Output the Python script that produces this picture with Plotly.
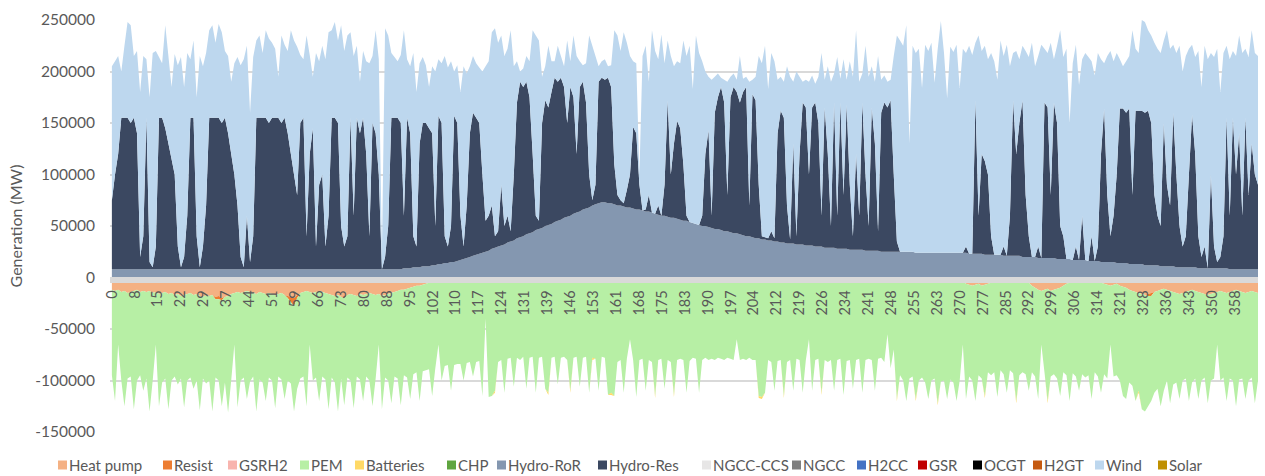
import plotly.graph_objects as go

# Hourly dispatch summarised per day (day 0 .. 365), values in MW
days = list(range(366))

hydro_ror = [
    8000, 8000, 8000, 8000, 8000, 8000, 8000, 8000, 8000, 8000,
    8000, 8000, 8000, 8000, 8000, 8000, 8000, 8000, 8000, 8000,
    8000, 8000, 8000, 8000, 8000, 8000, 8000, 8000, 8000, 8000,
    8000, 8000, 8000, 8000, 8000, 8000, 8000, 8000, 8000, 8000,
    8000, 8000, 8000, 8000, 8000, 8000, 8000, 8000, 8000, 8000,
    8000, 8000, 8000, 8000, 8000, 8000, 8000, 8000, 8000, 8000,
    8000, 8000, 8000, 8000, 8000, 8000, 8000, 8000, 8000, 8000,
    8000, 8000, 8000, 8000, 8000, 8000, 8000, 8000, 8000, 8000,
    8000, 8000, 8000, 8000, 8000, 8000, 8000, 8000, 8000, 8000,
    8000, 8000, 8000, 9000, 9000, 9000, 10000, 10000, 10000, 11000,
    11000, 11000, 12000, 12000, 13000, 13000, 14000, 14000, 15000, 15000,
    16000, 17000, 18000, 19000, 20000, 21000, 22000, 23000, 24000, 25000,
    26000, 28000, 29000, 30000, 31000, 32000, 34000, 35000, 36000, 38000,
    39000, 40000, 42000, 43000, 44000, 46000, 47000, 48000, 50000, 51000,
    52000, 54000, 55000, 56000, 58000, 59000, 60000, 62000, 63000, 64000,
    66000, 67000, 68000, 70000, 71000, 72000, 73000, 73000, 72000, 72000,
    71000, 70000, 70000, 69000, 68000, 68000, 67000, 66000, 66000, 65000,
    64000, 64000, 63000, 62000, 61000, 60000, 60000, 59000, 58000, 58000,
    57000, 56000, 55000, 55000, 54000, 53000, 52000, 51000, 50000, 50000,
    49000, 48000, 47000, 47000, 46000, 45000, 45000, 44000, 43000, 43000,
    42000, 41000, 40000, 40000, 39000, 38000, 38000, 37000, 37000, 36000,
    36000, 35000, 35000, 34000, 34000, 33000, 33000, 33000, 32000, 32000,
    32000, 31000, 31000, 31000, 30000, 30000, 30000, 29000, 29000, 29000,
    29000, 28000, 28000, 28000, 28000, 27000, 27000, 27000, 27000, 27000,
    26000, 26000, 26000, 26000, 26000, 25000, 25000, 25000, 25000, 25000,
    25000, 25000, 25000, 25000, 25000, 25000, 24000, 24000, 24000, 24000,
    24000, 24000, 24000, 24000, 24000, 24000, 24000, 24000, 24000, 24000,
    24000, 24000, 24000, 23000, 23000, 23000, 23000, 23000, 22000, 22000,
    22000, 22000, 22000, 22000, 21000, 21000, 21000, 21000, 21000, 21000,
    20000, 20000, 20000, 20000, 20000, 19000, 19000, 19000, 19000, 19000,
    19000, 18000, 18000, 18000, 18000, 18000, 17000, 17000, 17000, 17000,
    17000, 16000, 16000, 16000, 16000, 15000, 15000, 15000, 15000, 15000,
    14000, 14000, 14000, 14000, 13000, 13000, 13000, 13000, 13000, 12000,
    12000, 12000, 12000, 12000, 11000, 11000, 11000, 11000, 11000, 10000,
    10000, 10000, 10000, 10000, 10000, 10000, 9000, 9000, 9000, 9000,
    9000, 9000, 9000, 9000, 9000, 9000, 8000, 8000, 8000, 8000,
    8000, 8000, 8000, 8000, 8000, 8000,
]

hydro_res = [
    67000, 92000, 112000, 147000, 147000, 147000, 142000, 147000, 132000, 12000,
    32000, 147000, 7000, 2000, 22000, 147000, 147000, 137000, 122000, 107000,
    92000, 22000, 2000, 12000, 52000, 147000, 147000, 32000, 2000, 22000,
    62000, 147000, 147000, 147000, 147000, 142000, 147000, 132000, 112000, 92000,
    62000, 12000, 2000, 52000, 7000, 32000, 147000, 147000, 147000, 147000,
    142000, 147000, 147000, 147000, 142000, 147000, 132000, 112000, 92000, 72000,
    142000, 147000, 32000, 112000, 137000, 22000, 82000, 92000, 22000, 52000,
    147000, 147000, 142000, 42000, 22000, 32000, 147000, 52000, 147000, 132000,
    147000, 112000, 32000, 142000, 132000, 92000, 0, 12000, 42000, 147000,
    147000, 147000, 142000, 51000, 146000, 131000, 30000, 20000, 120000, 139000,
    139000, 134000, 128000, 38000, 144000, 137000, 26000, 16000, 35000, 142000,
    134000, 43000, 12000, 51000, 120000, 139000, 133000, 127000, 76000, 30000,
    34000, 42000, 11000, 15000, 59000, 18000, 26000, 10000, 64000, 132000,
    151000, 145000, 148000, 132000, 76000, 14000, 8000, 102000, 122000, 114000,
    128000, 140000, 135000, 138000, 127000, 91000, 125000, 113000, 57000, 121000,
    124000, 103000, 32000, 5000, 19000, 118000, 121000, 119000, 122000, 113000,
    39000, 10000, 5000, 3000, 17000, 32000, 79000, 74000, 24000, 0,
    2000, 16000, 0, 0, 9000, 0, 30000, 113000, 42000, 72000,
    95000, 89000, 55000, 5000, 0, 0, 0, 0, 10000, 70000,
    94000, 12000, 113000, 128000, 139000, 125000, 35000, 131000, 142000, 137000,
    128000, 139000, 145000, 30000, 139000, 134000, 52000, 3000, 2000, 2000,
    9000, 3000, 105000, 128000, 121000, 37000, 4000, 97000, 8000, 88000,
    138000, 134000, 69000, 134000, 140000, 120000, 30000, 136000, 91000, 21000,
    141000, 32000, 142000, 52000, 140000, 63000, 13000, 93000, 33000, 143000,
    74000, 24000, 139000, 104000, 19000, 135000, 145000, 140000, 147000, 75000,
    10000, 0, 0, 0, 0, 0, 0, 0, 0, 0,
    0, 0, 0, 0, 0, 0, 0, 0, 0, 0,
    0, 0, 6000, 0, 0, 149000, 37000, 97000, 91000, 78000,
    18000, 0, 0, 0, 9000, 0, 39000, 151000, 99000, 129000,
    152000, 60000, 20000, 0, 0, 11000, 0, 151000, 146000, 61000,
    151000, 132000, 32000, 22000, 0, 0, 0, 13000, 0, 43000,
    0, 0, 24000, 0, 14000, 105000, 149000, 65000, 25000, 45000,
    86000, 150000, 150000, 146000, 151000, 67000, 149000, 149000, 149000, 148000,
    150000, 138000, 68000, 48000, 39000, 139000, 79000, 59000, 149000, 90000,
    40000, 20000, 30000, 90000, 148000, 110000, 31000, 11000, 21000, 0,
    91000, 21000, 6000, 11000, 31000, 146000, 52000, 147000, 92000, 132000,
    52000, 147000, 72000, 122000, 92000, 82000,
]

wind = [
    130000, 110000, 95000, 45000, 70000, 93000, 95000, 60000, 80000, 160000,
    175000, 57000, 160000, 208000, 190000, 59000, 53000, 100000, 85000, 70000,
    117000, 176000, 204000, 165000, 158000, 57000, 75000, 135000, 205000, 175000,
    148000, 85000, 90000, 73000, 91000, 88000, 65000, 75000, 70000, 108000,
    144000, 186000, 202000, 165000, 145000, 174000, 75000, 80000, 63000, 85000,
    82000, 73000, 67000, 40000, 85000, 71000, 80000, 120000, 130000, 144000,
    66000, 57000, 195000, 96000, 50000, 188000, 120000, 125000, 182000, 178000,
    85000, 93000, 80000, 195000, 190000, 195000, 83000, 155000, 70000, 50000,
    65000, 90000, 168000, 65000, 100000, 112000, 17000, 222000, 185000, 63000,
    59000, 55000, 66000, 180000, 57000, 65000, 178000, 150000, 78000, 64000,
    56000, 40000, 65000, 150000, 55000, 58000, 175000, 174000, 160000, 43000,
    56000, 120000, 175000, 128000, 65000, 55000, 53000, 54000, 100000, 150000,
    150000, 168000, 202000, 183000, 145000, 165000, 162000, 195000, 105000, 40000,
    10000, 18000, 25000, 35000, 120000, 175000, 175000, 45000, 33000, 60000,
    30000, 16000, 35000, 21000, 20000, 80000, 25000, 60000, 95000, 25000,
    16000, 38000, 135000, 150000, 125000, 15000, 16000, 20000, 11000, 21000,
    130000, 155000, 145000, 166000, 143000, 115000, 64000, 68000, 10000, 150000,
    159000, 110000, 177000, 158000, 142000, 176000, 118000, 58000, 115000, 75000,
    58000, 63000, 120000, 155000, 171000, 130000, 183000, 167000, 150000, 80000,
    52000, 132000, 35000, 23000, 9000, 22000, 110000, 20000, 13000, 12000,
    45000, 13000, 10000, 120000, 14000, 23000, 125000, 168000, 186000, 145000,
    173000, 172000, 52000, 33000, 35000, 135000, 158000, 60000, 160000, 75000,
    20000, 27000, 90000, 31000, 18000, 45000, 158000, 27000, 85000, 140000,
    28000, 154000, 23000, 132000, 24000, 120000, 155000, 120000, 130000, 28000,
    125000, 145000, 40000, 60000, 170000, 32000, 26000, 25000, 20000, 115000,
    200000, 205000, 200000, 220000, 105000, 200000, 194000, 198000, 160000, 202000,
    196000, 204000, 165000, 198000, 225000, 194000, 150000, 200000, 195000, 202000,
    160000, 198000, 188000, 202000, 193000, 56000, 175000, 100000, 112000, 112000,
    178000, 188000, 170000, 208000, 185000, 205000, 145000, 46000, 100000, 62000,
    53000, 140000, 174000, 208000, 185000, 185000, 207000, 52000, 53000, 148000,
    42000, 75000, 190000, 174000, 204000, 132000, 191000, 196000, 170000, 152000,
    201000, 198000, 170000, 180000, 188000, 92000, 44000, 135000, 180000, 150000,
    118000, 48000, 41000, 50000, 51000, 160000, 60000, 56000, 88000, 88000,
    78000, 85000, 148000, 162000, 168000, 80000, 150000, 152000, 66000, 118000,
    175000, 170000, 175000, 122000, 68000, 94000, 180000, 165000, 195000, 203000,
    118000, 184000, 207000, 160000, 178000, 70000, 152000, 65000, 115000, 95000,
    158000, 67000, 134000, 110000, 118000, 125000,
]

heat_pump = [
    -12000, -13000, -12000, -14000, -13000, -15000, -14000, -13000, -12000, -14000,
    -13000, -14000, -13000, -15000, -14000, -16000, -15000, -14000, -16000, -15000,
    -17000, -16000, -18000, -17000, -16000, -15000, -17000, -16000, -18000, -19000,
    -17000, -18000, -17000, -19000, -18000, -20000, -19000, -18000, -16000, -15000,
    -14000, -15000, -14000, -13000, -14000, -15000, -16000, -14000, -15000, -16000,
    -15000, -16000, -17000, -16000, -15000, -17000, -18000, -19000, -20000, -17000,
    -15000, -14000, -13000, -14000, -15000, -14000, -13000, -14000, -15000, -16000,
    -17000, -18000, -17000, -19000, -18000, -17000, -16000, -17000, -18000, -16000,
    -17000, -16000, -15000, -16000, -17000, -16000, -18000, -17000, -16000, -15000,
    -14000, -13000, -12000, -12000, -11000, -10000, -9000, -8000, -8000, -7000,
    -6000, -5000, -4000, -3000, -2000, -1000, 0, 0, 0, 0,
    0, 0, 0, 0, 0, 0, 0, 0, 0, 0,
    0, 0, 0, 0, 0, 0, 0, 0, 0, 0,
    0, 0, 0, 0, 0, 0, 0, 0, 0, 0,
    0, 0, 0, 0, 0, 0, 0, 0, 0, 0,
    0, 0, 0, 0, 0, 0, 0, 0, 0, 0,
    0, 0, 0, 0, 0, 0, 0, 0, 0, 0,
    0, 0, 0, 0, 0, 0, 0, 0, 0, 0,
    0, 0, 0, 0, 0, 0, 0, 0, 0, 0,
    0, 0, 0, 0, 0, 0, 0, 0, 0, 0,
    0, 0, 0, 0, 0, 0, 0, 0, 0, 0,
    0, 0, 0, 0, 0, 0, 0, 0, 0, 0,
    0, 0, 0, 0, 0, 0, 0, 0, 0, 0,
    0, 0, 0, 0, 0, 0, 0, 0, 0, 0,
    0, 0, 0, 0, 0, 0, 0, 0, 0, 0,
    0, 0, 0, 0, 0, 0, 0, 0, 0, 0,
    0, 0, 0, 0, 0, -2000, -3000, -4000, -3000, -4000,
    -5000, -4000, -6000, -7000, -8000, -7000, -6000, -8000, -7000, -6000,
    -5000, -4000, -3000, -4000, -5000, -4000, -3000, -3000, -4000, -3000,
    -4000, -3000, -5000, -8000, -10000, -12000, -13000, -12000, -11000, -13000,
    -12000, -11000, -10000, -8000, -6000, -5000, -4000, -5000, -4000, -3000,
    -4000, -5000, -4000, -3000, -4000, -5000, -6000, -7000, -8000, -7000,
    -6000, -8000, -9000, -10000, -12000, -13000, -14000, -15000, -16000, -17000,
    -16000, -15000, -14000, -13000, -12000, -11000, -12000, -13000, -14000, -15000,
    -16000, -15000, -14000, -13000, -12000, -13000, -14000, -15000, -16000, -17000,
    -16000, -15000, -14000, -13000, -14000, -15000, -14000, -13000, -12000, -13000,
    -14000, -15000, -14000, -13000, -14000, -15000,
]

pem = [
    -83000, -107000, -53000, -86000, -112000, -83000, -82000, -115000, -88000, -81000,
    -97000, -84000, -117000, -85000, -51000, -109000, -87000, -84000, -112000, -85000,
    -79000, -88000, -80000, -109000, -84000, -82000, -91000, -84000, -111000, -79000,
    -86000, -82000, -113000, -76000, -79000, -103000, -83000, -113000, -84000, -50000,
    -112000, -85000, -83000, -105000, -87000, -81000, -114000, -85000, -87000, -104000,
    -82000, -84000, -110000, -80000, -84000, -101000, -80000, -79000, -102000, -88000,
    -83000, -82000, -112000, -51000, -85000, -83000, -107000, -82000, -84000, -112000,
    -80000, -84000, -113000, -79000, -104000, -80000, -84000, -110000, -78000, -83000,
    -103000, -80000, -85000, -109000, -81000, -49000, -110000, -80000, -84000, -107000,
    -82000, -85000, -112000, -83000, -86000, -108000, -85000, -84000, -112000, -84000,
    -84000, -84000, -111000, -85000, -63000, -99000, -86000, -85000, -110000, -85000,
    -84000, -84000, -100000, -83000, -82000, -96000, -82000, -81000, -115000, -40000,
    -116000, -115000, -110000, -82000, -80000, -112000, -79000, -78000, -106000, -78000,
    -80000, -77000, -108000, -78000, -77000, -112000, -78000, -77000, -108000, -112000,
    -78000, -77000, -104000, -78000, -77000, -80000, -110000, -78000, -77000, -106000,
    -78000, -77000, -112000, -78000, -79000, -110000, -77000, -78000, -114000, -112000,
    -115000, -82000, -80000, -112000, -79000, -60000, -80000, -116000, -80000, -79000,
    -110000, -80000, -82000, -115000, -80000, -79000, -108000, -80000, -82000, -114000,
    -80000, -79000, -80000, -112000, -81000, -78000, -79000, -112000, -80000, -78000,
    -80000, -79000, -80000, -78000, -79000, -80000, -78000, -79000, -80000, -60000,
    -80000, -79000, -80000, -78000, -80000, -80000, -115000, -116000, -112000, -80000,
    -82000, -110000, -81000, -80000, -115000, -82000, -80000, -110000, -79000, -80000,
    -112000, -80000, -60000, -110000, -80000, -79000, -112000, -80000, -82000, -80000,
    -110000, -80000, -79000, -114000, -81000, -80000, -108000, -80000, -79000, -112000,
    -80000, -79000, -80000, -110000, -79000, -78000, -82000, -55000, -88000, -70000,
    -118000, -95000, -100000, -120000, -98000, -96000, -118000, -100000, -97000, -102000,
    -118000, -100000, -98000, -122000, -101000, -98000, -115000, -95000, -99000, -116000,
    -95000, -61000, -112000, -89000, -92000, -113000, -89000, -90000, -108000, -86000,
    -90000, -88000, -113000, -86000, -89000, -108000, -87000, -90000, -116000, -92000,
    -88000, -91000, -105000, -84000, -86000, -106000, -52000, -80000, -109000, -83000,
    -82000, -87000, -105000, -84000, -89000, -115000, -89000, -91000, -106000, -91000,
    -93000, -90000, -114000, -89000, -92000, -107000, -88000, -91000, -57000, -89000,
    -89000, -92000, -106000, -108000, -90000, -92000, -106000, -95000, -112000, -113000,
    -107000, -102000, -98000, -95000, -113000, -99000, -88000, -109000, -90000, -87000,
    -102000, -85000, -84000, -107000, -90000, -85000, -104000, -85000, -81000, -105000,
    -84000, -83000, -51000, -87000, -83000, -105000, -84000, -87000, -113000, -86000,
    -84000, -103000, -86000, -84000, -108000, -85000,
]

# Sparse series: only the days with a non-zero value are listed
resist_by_day = {33: -2000, 34: -3000, 35: -2000, 56: -2000, 57: -5000,
                 58: -8000, 59: -3000, 74: -2000, 330: -2000, 331: -3000}
batteries_by_day = {122: -2000, 139: -2000, 146: -2000, 153: -2000, 159: -2000,
                    173: -2000, 179: -2000, 206: -2000, 207: -2000, 214: -2000,
                    226: -2000, 250: -2000, 256: -2000, 263: -2000, 278: -2000,
                    288: -2000, 298: -2000, 327: -2000}
resist = [resist_by_day.get(d, 0) for d in days]
batteries = [batteries_by_day.get(d, 0) for d in days]

series_lengths = {
    "hydro_ror": len(hydro_ror), "hydro_res": len(hydro_res), "wind": len(wind),
    "heat_pump": len(heat_pump), "pem": len(pem),
}
wrong = {k: n for k, n in series_lengths.items() if n != len(days)}
if wrong:
    raise ValueError(f"series length mismatch: {wrong}")

# Day labels along the category axis
x_tick_labels = ["0", "8", "15", "22", "29", "37", "44", "51", "59", "66", "73", "80",
                 "88", "95", "102", "110", "117", "124", "131", "139", "146", "153",
                 "161", "168", "175", "183", "190", "197", "204", "212", "219", "226",
                 "234", "241", "248", "255", "263", "270", "277", "285", "292", "299",
                 "306", "314", "321", "328", "336", "343", "350", "358", "365"]
x_tick_pos = [i * 365 / 50 for i in range(len(x_tick_labels))]

y_tick_vals = [-150000, -100000, -50000, 0, 50000, 100000, 150000, 200000, 250000]
y_tick_text = ["-150000", "-100000", "-50000", "0", "50000", "100000",
               "150000", "200000", "250000"]

# Legend entries (technology, colour)
legend_names = ["Heat pump", "Resist", "GSRH2", "PEM", "Batteries", "CHP",
                "Hydro-RoR", "Hydro-Res", "NGCC-CCS", "NGCC", "H2CC", "GSR",
                "OCGT", "H2GT", "Wind", "Solar"]
legend_colors = ["#F4B183", "#ED7D31", "#F8B4AE", "#B7EFA5", "#FFD966", "#5FA540",
                 "#8497B0", "#3B4861", "#E7E6E6", "#7F7F7F", "#4472C4", "#C00000",
                 "#000000", "#C55A11", "#BDD7EE", "#BF9000"]
colour = dict(zip(legend_names, legend_colors))

FONT = "Lato"
GREY_TEXT = "#595959"

fig = go.Figure()

# Generation stacked upwards
for name, values in [("Hydro-RoR", hydro_ror), ("Hydro-Res", hydro_res), ("Wind", wind)]:
    fig.add_trace(go.Scatter(
        x=days, y=values, name=name, stackgroup="gen", mode="none",
        line=dict(width=0), fillcolor=colour[name], showlegend=False,
    ))

# Demand-side loads stacked downwards
for name, values in [("Heat pump", heat_pump), ("Resist", resist),
                     ("PEM", pem), ("Batteries", batteries)]:
    fig.add_trace(go.Scatter(
        x=days, y=values, name=name, stackgroup="load", mode="none",
        line=dict(width=0), fillcolor=colour[name], showlegend=False,
    ))

# Plot-area geometry in pixels, used to place the hand-built legend
W, H = 1265, 476
M_L, M_R, M_T, M_B = 110, 7, 20, 44
PW, PH = W - M_L - M_R, H - M_T - M_B


def px_x(px):
    return (px - M_L) / PW


def px_y(py):
    return (H - M_B - py) / PH


legend_square_px = [58, 163, 228, 300, 355, 447, 497, 598, 702, 792, 857, 918,
                    973, 1033, 1095, 1158]
legend_row_y = 465
sq = 9
shapes, annotations = [], []
for name, col, left in zip(legend_names, legend_colors, legend_square_px):
    shapes.append(dict(
        type="rect", xref="paper", yref="paper",
        x0=px_x(left), x1=px_x(left + sq),
        y0=px_y(legend_row_y + sq / 2), y1=px_y(legend_row_y - sq / 2),
        fillcolor=col, line=dict(width=0), layer="above",
    ))
    annotations.append(dict(
        text=name, xref="paper", yref="paper", x=px_x(left + sq),
        y=px_y(legend_row_y), xanchor="left", yanchor="middle", showarrow=False,
        font=dict(family=FONT, size=15, color=GREY_TEXT),
    ))

y_min, y_max = -150000, 250000
axis_line_value = -2000

fig.update_layout(
    width=W, height=H,
    margin=dict(l=M_L, r=M_R, t=M_T, b=M_B),
    paper_bgcolor="white", plot_bgcolor="white",
    font=dict(family=FONT, color=GREY_TEXT),
    showlegend=False,
    shapes=shapes, annotations=annotations,
    xaxis=dict(
        range=[-0.6, 365], tickmode="array", tickvals=x_tick_pos, ticktext=x_tick_labels,
        tickangle=-90, tickfont=dict(family=FONT, size=14.5, color=GREY_TEXT),
        showgrid=False, zeroline=False, ticks="",
        showline=True, linecolor="#D9D9D9", linewidth=6,
        anchor="free", position=(axis_line_value - y_min) / (y_max - y_min),
        ticklabelstandoff=2,
    ),
    yaxis=dict(
        range=[y_min, y_max], tickmode="array", tickvals=y_tick_vals, ticktext=y_tick_text,
        tickfont=dict(family=FONT, size=15.5, color=GREY_TEXT),
        showgrid=True, gridcolor="#D9D9D9", gridwidth=1.5, zeroline=False,
        showline=False, ticks="", ticklabelstandoff=14,
        title=dict(text="Generation (MW)", font=dict(family=FONT, size=16, color=GREY_TEXT),
                   standoff=8),
    ),
)

fig.write_html("out.html")
